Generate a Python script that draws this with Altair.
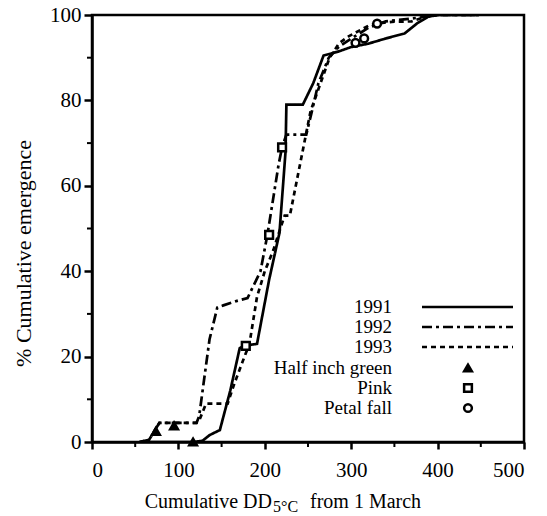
import altair as alt
import pandas as pd

FONT = "Liberation Serif"

years = ["1991", "1992", "1993"]
x_1991 = [60, 118, 128, 136, 148, 160, 171, 176, 191, 205, 217, 224, 225, 244, 256, 268, 286, 300, 320, 340, 362, 376, 389, 400, 448]
y_1991 = [0, 0, 0.3, 1.6, 2.8, 12, 22, 22.5, 23, 38, 49, 68, 79, 79, 84, 90.5, 91.5, 92.5, 93.3, 94.5, 95.7, 98, 99.6, 100, 100]
x_1992 = [55, 66, 72, 78, 121, 124, 136, 145, 152, 167, 180, 195, 203, 216, 220, 225, 248, 254, 262, 274, 286, 301, 320, 340, 375, 400, 448]
y_1992 = [0, 0.5, 2.5, 4.5, 4.5, 6, 24, 31.5, 32, 33, 33.7, 40, 48.5, 65, 69, 72, 72, 77, 84, 90, 92.6, 94.6, 97, 98.5, 99.3, 100, 100]
x_1993 = [55, 66, 72, 78, 121, 124, 132, 157, 165, 178, 182, 191, 200, 210, 218, 223, 229, 253, 275, 286, 297, 320, 330, 347, 370, 385, 400, 448]
y_1993 = [0, 0.5, 2.5, 4.5, 4.5, 5, 9, 9, 13.8, 20.8, 22.7, 34, 40, 45, 50, 53, 53, 77.5, 90, 93.4, 95, 97.5, 98, 98.4, 98.5, 99.5, 100, 100]

stages = ["Half inch green", "Pink", "Petal fall"]
tri_x = [74, 95, 117]
tri_y = [2.5, 3.8, 0]
sq_x = [178, 205, 220]
sq_y = [22.5, 48.5, 69]
circ_x = [305, 315, 330]
circ_y = [93.5, 94.5, 98]

x_ticks = [0, 100, 200, 300, 400, 500]
x_minor = [50, 150, 250, 350, 450]
y_ticks = [0, 20, 40, 60, 80, 100]
y_minor = [10, 30, 50, 70, 90]

dashes = [[1, 0], [10, 4, 3, 4], [5, 4]]
shapes = ["triangle-up", "square", "circle"]
fills = ["black", "white", "white"]

rows = []
for yr, xs, ys in zip(years, [x_1991, x_1992, x_1993], [y_1991, y_1992, y_1993]):
    for i, (a, b) in enumerate(zip(xs, ys)):
        rows.append({"year": yr, "dd": a, "pct": b, "i": i})
lines_df = pd.DataFrame(rows)

mrows = []
for st, xs, ys in zip(stages, [tri_x, sq_x, circ_x], [tri_y, sq_y, circ_y]):
    for a, b in zip(xs, ys):
        mrows.append({"stage": st, "dd": a, "pct": b})
marks_df = pd.DataFrame(mrows)

xscale = alt.Scale(domain=[0, 500], nice=False)
yscale = alt.Scale(domain=[0, 100], nice=False)

lines = alt.Chart(lines_df).mark_line(color="black", strokeWidth=2.7, clip=True).encode(
    x=alt.X("dd:Q", scale=xscale,
            axis=alt.Axis(values=x_ticks, tickSize=7, labelPadding=10, title=None)),
    y=alt.Y("pct:Q", scale=yscale,
            axis=alt.Axis(values=y_ticks, tickSize=8, labelPadding=3,
                          title="% Cumulative emergence",
                          titleX=-62, titleY=238, titleBaseline="alphabetic")),
    strokeDash=alt.StrokeDash("year:N", scale=alt.Scale(domain=years, range=dashes), legend=None),
    order="i:Q",
)

points = alt.Chart(marks_df).mark_point(size=60, strokeWidth=2.5, stroke="black", opacity=1, filled=True).encode(
    x=alt.X("dd:Q", scale=xscale),
    y=alt.Y("pct:Q", scale=yscale),
    shape=alt.Shape("stage:N", scale=alt.Scale(domain=stages, range=shapes), legend=None),
    fill=alt.Fill("stage:N", scale=alt.Scale(domain=stages, range=fills), legend=None),
)

minor_x = alt.Chart(pd.DataFrame({"v": x_minor})).mark_rule(color="black", strokeWidth=2).encode(
    x=alt.X("v:Q", scale=xscale), y=alt.value(427), y2=alt.value(432))
minor_y = alt.Chart(pd.DataFrame({"v": y_minor})).mark_rule(color="black", strokeWidth=2).encode(
    y=alt.Y("v:Q", scale=yscale), x=alt.value(-5), x2=alt.value(0))

layers = [lines, points, minor_x, minor_y]

leg_labels = years + stages
leg_y = [292, 312, 332, 353, 373, 393]
one = pd.DataFrame({"a": [0]})
for lab, yy in zip(leg_labels, leg_y):
    layers.append(alt.Chart(one).mark_text(font=FONT, fontSize=19, align="right", baseline="middle",
                                           color="black", text=lab).encode(x=alt.value(300), y=alt.value(yy)))
for k in range(3):
    layers.append(alt.Chart(one).mark_rule(color="black", strokeWidth=2.7, strokeDash=dashes[k]).encode(
        x=alt.value(330), x2=alt.value(421), y=alt.value(leg_y[k])))
    layers.append(alt.Chart(one).mark_point(size=60, strokeWidth=2.5, stroke="black", opacity=1, filled=True,
                                            shape=shapes[k], fill=fills[k]).encode(
        x=alt.value(376), y=alt.value(leg_y[3 + k])))

layers.append(alt.Chart(one).mark_text(font=FONT, fontSize=20, align="right", baseline="alphabetic",
                                       color="black", text="Cumulative DD").encode(x=alt.value(180), y=alt.value(493)))
layers.append(alt.Chart(one).mark_text(font=FONT, fontSize=16, align="left", baseline="alphabetic",
                                       color="black", text="5°C").encode(x=alt.value(181), y=alt.value(497)))
layers.append(alt.Chart(one).mark_text(font=FONT, fontSize=20, align="left", baseline="alphabetic",
                                       color="black", text="from 1 March").encode(x=alt.value(218), y=alt.value(493)))

chart = alt.layer(*layers).properties(
    width=432, height=427,
    padding={"left": 92, "top": 15, "right": 23, "bottom": 74},
    autosize=alt.AutoSizeParams(type="none"),
).configure(font=FONT).configure_axis(
    grid=False, domainColor="black", domainWidth=2.5, tickColor="black", tickWidth=2.5,
    labelFont=FONT, labelFontSize=21, labelColor="black",
    titleFont=FONT, titleFontSize=22, titleFontWeight="normal", titleColor="black",
).configure_view(stroke="black", strokeWidth=2.5)

chart.save("out.html", embed_options={"renderer": "svg", "actions": False})
